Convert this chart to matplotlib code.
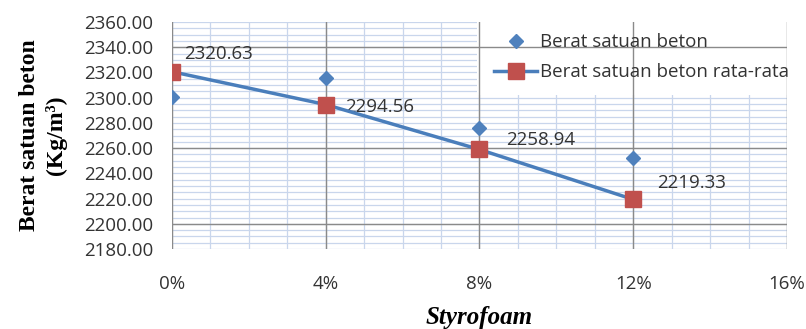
import numpy as np
import matplotlib.pyplot as plt
from matplotlib.patches import Rectangle
from matplotlib.ticker import MultipleLocator, FuncFormatter

# Kadar styrofoam (%) dan berat satuan beton (kg/m3)
styrofoam = [0, 4, 8, 12]
berat_sampel = [2300.5, 2315.5, 2276.0, 2252.0]
berat_rata = [2320.63, 2294.56, 2258.94, 2219.33]
label_offsets = [(9, 13), (14, -2), (19, 6.5), (17, 11.5)]
dark_rows = [2340, 2260, 2200]

plt.rcParams['font.family'] = ['Open Sans', 'DejaVu Sans']
txt = '#333333'

fig = plt.figure(figsize=(8.06, 3.29), dpi=100)
ax = fig.add_axes([0.2134, 0.243, 0.763, 0.69])

ax.set_xlim(0, 16)
ax.set_ylim(2180, 2360)
ax.xaxis.set_major_locator(MultipleLocator(4))
ax.xaxis.set_minor_locator(MultipleLocator(1))
ax.yaxis.set_major_locator(MultipleLocator(20))
ax.yaxis.set_minor_locator(MultipleLocator(5))
ax.xaxis.set_major_formatter(FuncFormatter(lambda v, p: f'{v:.0f}%'))
ax.yaxis.set_major_formatter(FuncFormatter(lambda v, p: f'{v:.2f}'))

# light blue grid everywhere, grey lines on top of the legend patch
ax.grid(which='both', color='#c9d6ec', lw=0.9)
ax.set_axisbelow(True)
ax.add_patch(Rectangle((0.496, 0.678), 0.504, 0.322, transform=ax.transAxes,
                       facecolor='white', edgecolor='none', zorder=0.55))
for r in dark_rows:
    ax.axhline(r, color='#8a8a8a', lw=1.0, zorder=0.6)
for c in ax.get_xticks():
    ax.axvline(c, color='#8a8a8a', lw=1.0, zorder=0.6)

for s in ax.spines.values():
    s.set_visible(False)

ax.plot(styrofoam, berat_sampel, linestyle='none', marker='D', ms=7.5,
        color='#4f81bd', label='Berat satuan beton', zorder=3)
ax.plot(styrofoam, berat_rata, color='#4a7ebb', lw=2.5, marker='s', ms=11,
        mfc='#c0504d', mec='#c0504d', label='Berat satuan beton rata-rata',
        zorder=4)

for x, y, (dx, dy) in zip(styrofoam, berat_rata, label_offsets):
    ax.annotate(f'{y:.2f}', (x, y), xytext=(dx, dy), textcoords='offset points',
                fontsize=13.5, color=txt, va='center', ha='left')

ax.legend(loc='upper right', bbox_to_anchor=(1.022, 1.0), frameon=False,
          fontsize=13.5, handlelength=2.3, handletextpad=0.15, labelspacing=0.65,
          borderaxespad=0.2, labelcolor=txt)

ax.set_xlabel('Styrofoam', family='Liberation Serif', fontweight='bold',
              style='italic', fontsize=18, labelpad=9)
ax.set_ylabel('Berat satuan beton\n(Kg/m³)', family='Liberation Serif',
              fontweight='bold', fontsize=17, labelpad=12, linespacing=1.3)

ax.tick_params(which='both', length=0)
ax.tick_params(axis='y', which='major', pad=13.5, labelsize=13.5, labelcolor=txt)
ax.tick_params(axis='x', which='major', pad=19, labelsize=13.5, labelcolor=txt)

fig.savefig('out.png', dpi=100)
